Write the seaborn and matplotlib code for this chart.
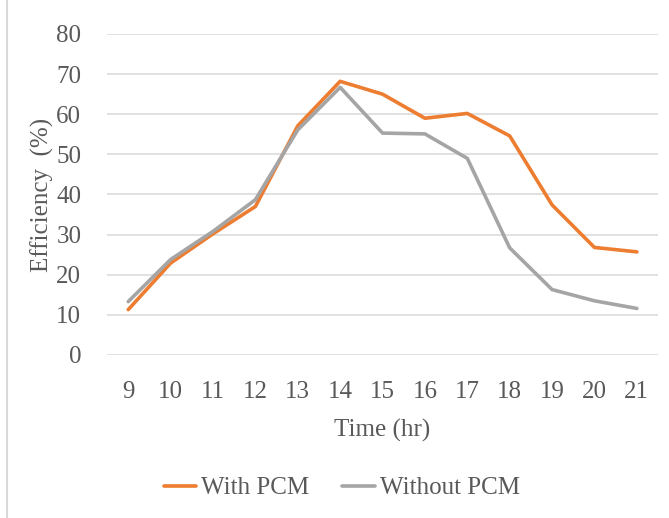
import pandas as pd
import seaborn as sns
import matplotlib.pyplot as plt
from matplotlib.patches import Rectangle

hours = ['9', '10', '11', '12', '13', '14', '15', '16', '17', '18', '19', '20', '21']
with_pcm = [11.3, 22.9, 30.2, 37.0, 57.1, 68.2, 65.0, 59.0, 60.2, 54.6, 37.4, 26.8, 25.7]
without_pcm = [13.3, 23.8, 30.8, 38.7, 56.1, 66.7, 55.3, 55.1, 49.0, 26.7, 16.3, 13.5, 11.6]

df = pd.DataFrame({'Time': hours * 2,
                   'Efficiency': with_pcm + without_pcm,
                   'Series': ['With PCM'] * 13 + ['Without PCM'] * 13})

sns.set_style('white')
plt.rcParams['font.family'] = ['Liberation Serif', 'DejaVu Serif']
txt = '#595959'

fig = plt.figure(figsize=(6.69, 5.18), dpi=100, facecolor='white')
ax = fig.add_axes([0.16, 0.3147, 0.8236, 0.6197])

ax = sns.lineplot(data=df, x='Time', y='Efficiency', hue='Series',
                  palette=['#ED7D31', '#A5A5A5'], linewidth=2.6, ax=ax,
                  sort=False)

ax.set_ylim(0, 80)
ax.set_xlim(-0.5, 12.5)
ax.set_yticks(range(0, 81, 10))
ax.yaxis.grid(True, color='#d9d9d9', linewidth=1.1)
ax.set_axisbelow(True)
for s in ax.spines.values():
    s.set_visible(False)
ax.tick_params(left=False, bottom=False, labelsize=18, labelcolor=txt)
ax.tick_params(axis='x', pad=15)
ax.tick_params(axis='y', pad=15)

ax.set_xlabel('Time (hr)', fontsize=18, color=txt)
ax.set_ylabel('Efficiency  (%)', fontsize=18, color=txt)
ax.xaxis.set_label_coords(0.5, -0.2)
ax.yaxis.set_label_coords(-0.097, 0.5)

leg = ax.legend(loc='center', bbox_to_anchor=(0.426, -0.415), ncol=2, frameon=False,
                fontsize=18, handlelength=1.3, handletextpad=0.2, columnspacing=1.3)
for t in leg.get_texts():
    t.set_color(txt)

fig.patches.append(Rectangle((0.01, -0.01), 1.2, 1.2, transform=fig.transFigure,
                             fill=False, edgecolor='#d9d9d9', linewidth=1.5))

fig.savefig('out.png', dpi=100, facecolor='white')
